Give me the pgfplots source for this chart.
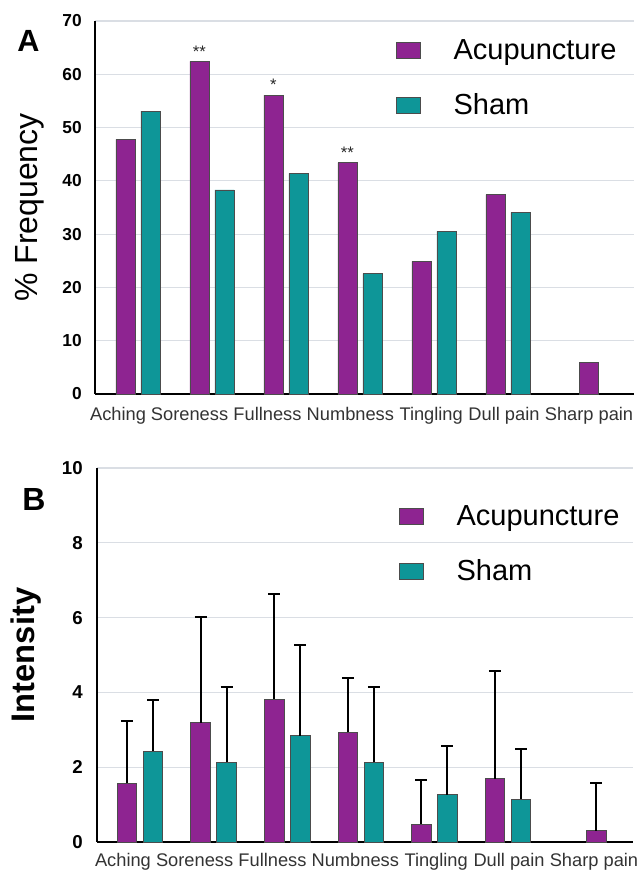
\documentclass[border=0pt]{standalone}
\usepackage{pgfplots}
\pgfplotsset{compat=1.18}
\usepackage{fontspec}
\setmainfont{Liberation Sans}
\definecolor{acu}{RGB}{142,36,145}
\definecolor{sham}{RGB}{14,150,152}
\definecolor{gridc}{RGB}{218,222,228}
\pgfplotsset{
 panel/.style={
  scale only axis,
  axis x line=bottom, axis y line=left,
  axis line style={-, line width=2pt, black},
  ymajorgrids, grid style={gridc, line width=0.8pt},
  major tick length=0pt,
  /pgf/number format/assume math mode=true,
  xtick style={draw=none}, ytick style={draw=none},
  clip=false,
  legend cell align=left,
  legend style={draw=none, fill=none, inner sep=0pt, nodes={inner sep=0pt},
    font=\fontsize{21.75}{21.75}\selectfont, row sep=24.2pt},
  every axis y label/.style={rotate=90, anchor=base, inner sep=0pt},
 },
 legacu/.style={legend image code/.code={\draw[fill=acu, draw=black!70, line width=0.5pt] (0pt,-6pt) rectangle (18pt,6pt); \path[draw=none, fill=none] (0pt,0pt) -- (42.75pt,0pt);}},
 legsham/.style={legend image code/.code={\draw[fill=sham, draw=black!70, line width=0.5pt] (0pt,-6pt) rectangle (18pt,6pt); \path[draw=none, fill=none] (0pt,0pt) -- (42.75pt,0pt);}},
}
\pgfplotstableread{
x y
-0.169 47.8
0.831 62.4
1.831 56.1
2.831 43.4
3.831 24.9
4.831 37.4
6.095 5.9
}\freqacu
\pgfplotstableread{
x y
0.169 53.1
1.169 38.3
2.169 41.4
3.169 22.6
4.169 30.5
5.169 34.1
}\freqsham
\pgfplotstableread{
x y e
-0.177 1.57 1.66
0.823 3.19 2.82
1.823 3.82 2.82
2.823 2.93 1.45
3.823 0.48 1.19
4.823 1.69 2.89
6.200 0.30 1.27
}\intacu
\pgfplotstableread{
x y e
0.177 2.43 1.36
1.177 2.13 2.02
2.177 2.84 2.44
3.177 2.13 2.02
4.177 1.27 1.31
5.177 1.14 1.34
}\intsham
\begin{document}
\begin{tikzpicture}
\begin{axis}[panel, at={(71.25pt,358.5pt)}, anchor=south west,
  width=404.25pt, height=279.75pt,
  xmin=-0.581, xmax=6.703, ymin=0, ymax=70,
  ytick={0,10,...,70},
  yticklabel style={anchor=east, xshift=-9.75pt, inner sep=0pt, font=\bfseries\fontsize{13}{13}\selectfont},
  xtick={-0.270,0.697,1.750,2.870,3.962,4.946,6.095},
  xticklabels={Aching,Soreness,Fullness,Numbness,Tingling,Dull pain,Sharp pain},
  xticklabel style={anchor=base, yshift=-20.25pt, inner sep=0pt, text=black!80, font=\fontsize{13.7}{13.7}\selectfont},
  ylabel={\% Frequency},
  ylabel style={at={(axis description cs:-0.1076,0.5)}, font=\fontsize{24}{24}\selectfont},
  legend style={at={(axis description cs:0.5584,0.9517)}, anchor=north west},
]
\addplot[ybar, bar shift=0pt, bar width=0.257, fill=acu, draw=black!70, line width=0.6pt, legacu] table[x=x,y=y] {\freqacu};
\addlegendentry{Acupuncture}
\addplot[ybar, bar shift=0pt, bar width=0.257, fill=sham, draw=black!70, line width=0.6pt, legsham] table[x=x,y=y] {\freqsham};
\addlegendentry{Sham}
\addplot[draw=none, mark=none, forget plot, nodes near coords, point meta=explicit symbolic,
  every node near coord/.append style={inner sep=0pt, yshift=3pt, text=black!85, font=\fontsize{12.5}{12.5}\selectfont}]
  coordinates {(0.831,62.4)[**] (1.831,56.1)[*] (2.831,43.4)[**]};
\end{axis}
\begin{axis}[panel, at={(72.75pt,22.5pt)}, anchor=south west,
  width=402pt, height=280.5pt,
  xmin=-0.584, xmax=6.698, ymin=0, ymax=10,
  ytick={0,2,...,10},
  yticklabel style={anchor=east, xshift=-10.5pt, inner sep=0pt, font=\bfseries\fontsize{14}{14}\selectfont},
  xtick={-0.231,0.742,1.800,2.925,4.024,5.014,6.168},
  xticklabels={Aching,Soreness,Fullness,Numbness,Tingling,Dull pain,Sharp pain},
  xticklabel style={anchor=base, yshift=-18.75pt, inner sep=0pt, text=black!80, font=\fontsize{13.7}{13.7}\selectfont},
  ylabel={Intensity},
  ylabel style={at={(axis description cs:-0.1157,0.5)}, font=\bfseries\fontsize{24.5}{24.5}\selectfont},
  legend style={at={(axis description cs:0.5634,0.901)}, anchor=north west},
]
\addplot[ybar, bar shift=0pt, bar width=0.265, fill=acu, draw=black!70, line width=0.6pt, legacu,
  error bars/.cd, y dir=plus, y explicit, error bar style={line width=1.5pt, black}, error mark options={rotate=90, line width=1.5pt, black, mark size=4.5pt}]
  table[x=x,y=y,y error=e] {\intacu};
\addlegendentry{Acupuncture}
\addplot[ybar, bar shift=0pt, bar width=0.265, fill=sham, draw=black!70, line width=0.6pt, legsham,
  error bars/.cd, y dir=plus, y explicit, error bar style={line width=1.5pt, black}, error mark options={rotate=90, line width=1.5pt, black, mark size=4.5pt}]
  table[x=x,y=y,y error=e] {\intsham};
\addlegendentry{Sham}
\end{axis}
\node[anchor=base west, inner sep=0pt, font=\bfseries\fontsize{23}{23}\selectfont] at (12.75pt,615pt) {A};
\node[anchor=base west, inner sep=0pt, font=\bfseries\fontsize{24}{24}\selectfont] at (16.5pt,270.75pt) {B};
\pgfresetboundingbox
\path (0pt,0pt) rectangle (481.5pt,654pt);
\end{tikzpicture}
\end{document}
